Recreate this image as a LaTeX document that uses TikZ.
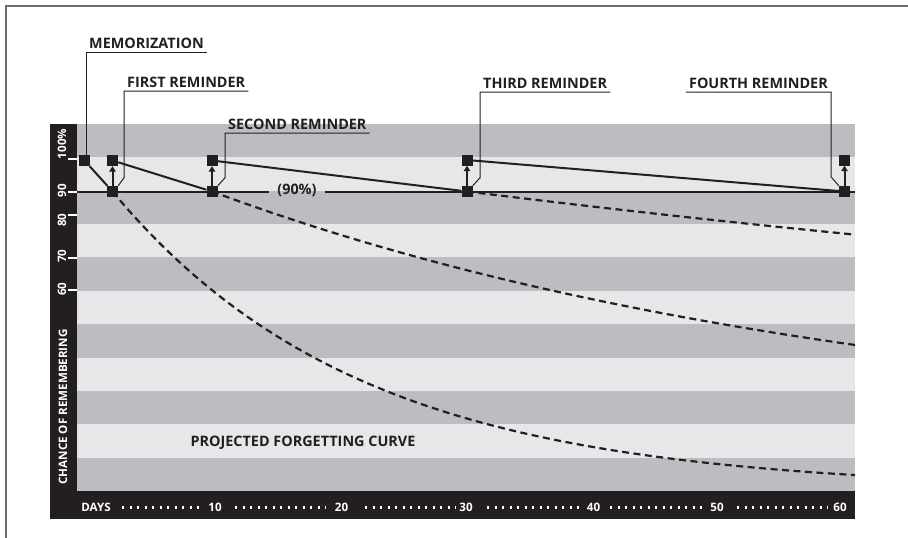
\documentclass[tikz,border=0pt]{standalone}
\usepackage{fontspec}
\setmainfont{Open Sans}
\usetikzlibrary{arrows.meta}
\definecolor{ink}{HTML}{231F20}
\definecolor{dstripe}{HTML}{BBBDC0}
\definecolor{lstripe}{HTML}{E6E7E8}
\definecolor{framegray}{HTML}{6D6E70}
\begin{document}
\begin{tikzpicture}[x=1pt,y=-1pt,
  sq/.style={fill=ink, minimum size=11pt, inner sep=0pt},
  labfont/.style={font=\fontsize{14.4}{15}\selectfont\bfseries, text=ink},
  lab/.style={labfont, inner xsep=3pt, inner ysep=3pt, text depth=0pt, anchor=south west},
  leader/.style={ink, line width=1pt},
  solidline/.style={ink, line width=2pt},
  dcurve/.style={ink, line width=2.2pt, dash pattern=on 7pt off 4.5pt},
  arr/.style={ink, line width=2pt, -{Triangle[width=6.5pt,length=5.5pt]}},
  axtxt/.style={font=\fontsize{11.6}{12}\selectfont\bfseries, text=white, inner sep=0pt},
  ytxt/.style={font=\fontsize{11.6}{12}\selectfont\bfseries, text=white, inner sep=0pt, rotate=90},
  tick/.style={white, line width=2pt},
  dots/.style={white, line width=2.2pt, dash pattern=on 2.2pt off 5.3pt}
]
\useasboundingbox (0,0) rectangle (908,538);
% frame
\draw[framegray, line width=1.6pt] (6,538) -- (6,5.8) -- (908,5.8);
% panel
\fill[ink] (50,124) rectangle (855,519);
\foreach \i in {0,2,...,10} \fill[dstripe] (77,{124+33.364*\i}) rectangle (855,{124+33.364*(\i+1)});
\foreach \i in {1,3,...,9} \fill[lstripe] (77,{124+33.364*\i}) rectangle (855,{124+33.364*(\i+1)});
% y axis ticks and labels
\foreach \yy in {158.5,191.5,214.5,257.5,290} \draw[tick] (68,\yy) -- (77,\yy);
\node[ytxt] (y100) at (62,144) {100\%};
\node[ytxt] (y90) at (62,190.5) {90};
\node[ytxt] (y80) at (62,220) {80};
\node[ytxt] (y70) at (62,256) {70};
\node[ytxt] (y60) at (62,289) {60};
\node[ytxt] (ylab) at (63,407) {CHANCE OF REMEMBERING};
% x axis
\node[axtxt] (days) at (96,507) {DAYS};
\node[axtxt] (d10) at (215,507) {10};
\node[axtxt] (d20) at (341.5,507) {20};
\node[axtxt] (d30) at (466,507) {30};
\node[axtxt] (d40) at (593.5,507) {40};
\node[axtxt] (d50) at (717,507) {50};
\node[axtxt] (d60) at (840,507) {60};
\draw[dots] (122,507.5) -- (200,507.5);
\draw[dots] (235,507.5) -- (326,507.5);
\draw[dots] (365,507.5) -- (456,507.5);
\draw[dots] (487,507.5) -- (580,507.5);
\draw[dots] (610,507.5) -- (703,507.5);
\draw[dots] (737,507.5) -- (828,507.5);
% 90% line
\coordinate (a90l) at (77,191.5);
\coordinate (a90r) at (855,191.5);
\node[labfont, inner xsep=8pt] (p90) at (297,190) {(90\%)};
\draw[solidline] (a90l) -- (p90.west |- a90l);
\draw[solidline] (p90.east |- a90r) -- (a90r);
% forgetting curves
\draw[dcurve] plot[domain=112.5:855, samples=90, smooth] (\x,{490-298.5*exp(-(\x-112.5)/248)});
\draw[dcurve] plot[domain=212:855, samples=70, smooth] (\x,{440-248.5*exp(-(\x-212)/669)});
\draw[dcurve] plot[domain=467:855, samples=40, smooth] (\x,{400-208.5*exp(-(\x-467)/1672)});
% squares
\node[sq] (m0) at (84.5,160.5) {};
\node[sq] (r1t) at (112.5,160.5) {};
\node[sq] (r1b) at (112.5,191.5) {};
\node[sq] (r2t) at (212,160.5) {};
\node[sq] (r2b) at (212,191.5) {};
\node[sq] (r3t) at (467,160) {};
\node[sq] (r3b) at (467,191.5) {};
\node[sq] (r4t) at (844.5,160) {};
\node[sq] (r4b) at (844.5,191.5) {};
% solid review lines
\draw[solidline] (m0) -- (r1b);
\draw[solidline] (r1t) -- (r2b);
\draw[solidline] (r2t) -- (r3b);
\draw[solidline] (r3t) -- (r4b);
% arrows
\draw[arr] (r1b) -- (r1t);
\draw[arr] (r2b) -- (r2t);
\draw[arr] (r3b) -- (r3t);
\draw[arr] (r4b) -- (r4t);
% labels
\node[lab] (lm) at (86,52) {MEMORIZATION};
\node[lab] (l1) at (124,91) {FIRST REMINDER};
\node[lab] (l2) at (225,133) {SECOND REMINDER};
\node[lab] (l3) at (480,92) {THIRD REMINDER};
\node[lab, anchor=south east] (l4) at (831,92) {FOURTH REMINDER};
\node[labfont] (pfc) at (303,443) {PROJECTED FORGETTING CURVE};
% leaders
\draw[leader] (lm.south east) -- (lm.south west) -- (lm.south west |- m0.north);
\draw[leader] (l1.south east) -- (l1.south west) -- ([yshift=8pt]l1.south west |- r1b.north east) -- (r1b.north east);
\draw[leader] (l2.south east) -- (l2.south west) -- ([yshift=8pt]l2.south west |- r2b.north east) -- (r2b.north east);
\draw[leader] (l3.south east) -- (l3.south west) -- ([yshift=8pt]l3.south west |- r3b.north east) -- (r3b.north east);
\draw[leader] (l4.south west) -- (l4.south east) -- ([yshift=9pt]l4.south east |- r4b.north west) -- (r4b.north west);
\end{tikzpicture}
\end{document}
